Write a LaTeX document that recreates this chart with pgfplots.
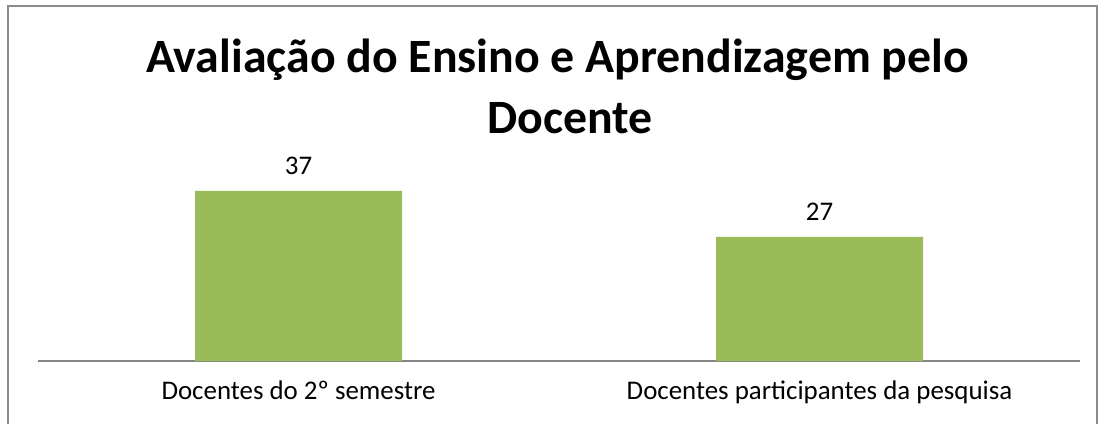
\documentclass[border=0pt]{standalone}
\usepackage{pgfplots}
\pgfplotsset{compat=1.18}
\usepackage{fontspec}
\setmainfont{Carlito}
\definecolor{bargreen}{HTML}{9BBB59}
\definecolor{framegray}{HTML}{8C8C8C}
\definecolor{axisgray}{HTML}{868686}
\begin{document}
\begin{tikzpicture}[x=1bp,y=1bp]
\useasboundingbox (0,0) rectangle (1106,423);
\draw[framegray, line width=1.5bp] (8,-2) -- (8,417) -- (1097,417) -- (1097,-2);
\node[anchor=base, font=\fontsize{48}{56}\selectfont\bfseries, inner sep=0] at (557.5,351) {Avaliação do Ensino e Aprendizagem pelo};
\node[anchor=base, font=\fontsize{48}{56}\selectfont\bfseries, inner sep=0] at (570,290) {Docente};
\begin{axis}[
  at={(38bp,62bp)}, anchor=south west,
  scale only axis, width=1042bp, height=183.8bp,
  xmin=-0.5, xmax=1.5, ymin=0, ymax=40,
  axis y line=none, axis x line*=bottom,
  x axis line style={draw=axisgray, line width=1.2bp, -},
  xtick=data, xticklabels={Docentes do 2º semestre, Docentes participantes da pesquisa},
  major tick length=0pt,
  xticklabel style={font=\fontsize{27}{32}\selectfont, yshift=-16bp},
  ybar, bar width=207bp,
  nodes near coords,
  every node near coord/.append style={font=\fontsize{27}{32}\selectfont, yshift=13bp},
  /pgf/number format/assume math mode=true,
  clip=false]
\addplot[fill=bargreen, draw=none] coordinates {(0,37) (1,27)};
\end{axis}
\end{tikzpicture}
\end{document}
